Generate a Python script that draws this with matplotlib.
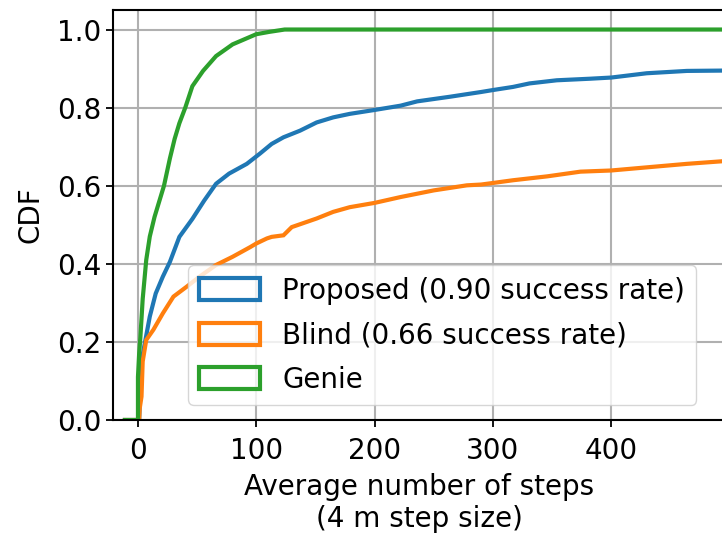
import matplotlib
matplotlib.use("Agg")
import matplotlib.pyplot as plt
from matplotlib.patches import Patch

# CDF points (x = average number of steps)
genie_x = [-11, 0, 0, 1, 2, 4, 7, 10, 14, 18, 22, 27, 31, 35, 40, 46, 55, 66, 80, 100, 111, 124, 500]
genie_y = [0, 0, 0.11, 0.17, 0.21, 0.31, 0.41, 0.47, 0.52, 0.56, 0.60, 0.67, 0.72, 0.76, 0.80,
           0.855, 0.894, 0.932, 0.962, 0.988, 0.994, 1.0, 1.0]

proposed_x = [-11, 1, 3, 6, 10, 15, 21, 27, 35, 46, 56, 66, 77, 92, 103, 113, 123, 137, 151, 165,
              179, 200, 222, 236, 264, 290, 300, 317, 331, 354, 382, 400, 430, 464, 500]
proposed_y = [0, 0, 0.15, 0.20, 0.265, 0.324, 0.367, 0.405, 0.469, 0.515, 0.562, 0.605, 0.631,
              0.656, 0.682, 0.707, 0.724, 0.741, 0.762, 0.775, 0.784, 0.794, 0.805, 0.816, 0.828,
              0.840, 0.845, 0.853, 0.862, 0.870, 0.874, 0.877, 0.888, 0.894, 0.895]

blind_x = [-11, 1, 1.5, 3, 4, 7, 13, 21, 30, 41, 52, 66, 80, 95, 100, 109, 113, 123, 130, 151,
           165, 179, 200, 222, 250, 278, 290, 300, 317, 346, 374, 400, 430, 464, 500]
blind_y = [0, 0, 0.03, 0.06, 0.15, 0.205, 0.231, 0.273, 0.316, 0.341, 0.367, 0.397, 0.418, 0.443,
           0.452, 0.465, 0.469, 0.473, 0.494, 0.516, 0.533, 0.545, 0.556, 0.571, 0.588, 0.601,
           0.603, 0.607, 0.614, 0.624, 0.636, 0.639, 0.647, 0.656, 0.664]

labels = ["Proposed (0.90 success rate)", "Blind (0.66 success rate)", "Genie"]
colors = ["#1f77b4", "#ff7f0e", "#2ca02c"]

FS = 20

fig = plt.figure(figsize=(7.22, 5.33), dpi=100)
ax = fig.add_axes([113 / 722, 1 - 420 / 533, 1.005 - 113 / 722, (420 - 10) / 533])

for xs, ys, c in zip([proposed_x, blind_x, genie_x], [proposed_y, blind_y, genie_y], colors):
    ax.plot(xs, ys, color=c, lw=3, solid_joinstyle="miter")

ax.set_xlim(-21.1, 496.7)
ax.set_ylim(0, 1.05)
ax.set_xticks([0, 100, 200, 300, 400])
ax.set_yticks([0.0, 0.2, 0.4, 0.6, 0.8, 1.0])
ax.set_yticklabels(["0.0", "0.2", "0.4", "0.6", "0.8", "1.0"])
ax.grid(True, color="#b0b0b0", lw=1.5)
ax.tick_params(labelsize=FS, length=5, width=1.3)
ax.tick_params(axis="x", pad=7)
for s in ax.spines.values():
    s.set_linewidth(1.5)

ax.set_xlabel("Average number of steps\n(4 m step size)", fontsize=FS, labelpad=6)
ax.set_ylabel("CDF", fontsize=FS, labelpad=9)

handles = [Patch(facecolor="none", edgecolor=c, lw=3) for c in colors]
ax.legend(handles, labels, fontsize=FS, loc="lower left",
          bbox_to_anchor=(188 / 722, 1 - 405 / 533), bbox_transform=fig.transFigure,
          borderaxespad=0, handlelength=2.2, handleheight=0.85, labelspacing=0.6)

fig.savefig("out.png", dpi=100)
